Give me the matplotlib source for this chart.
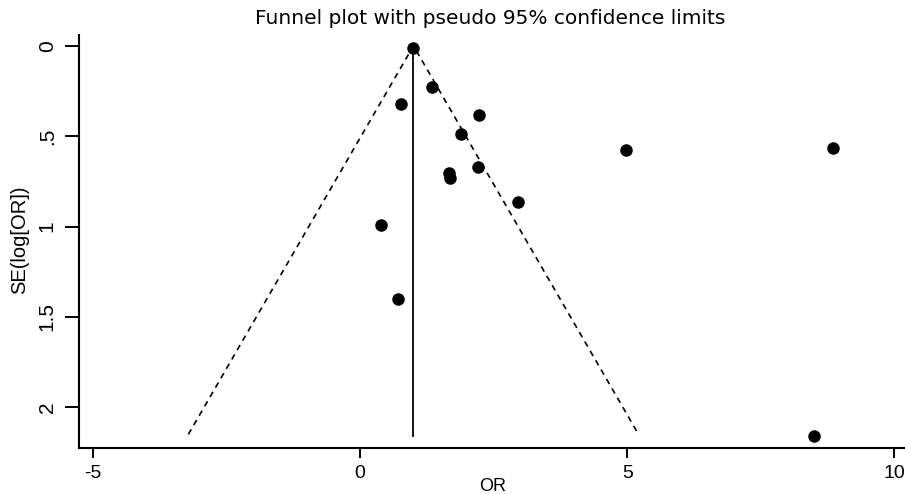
#! /bin/env python

# Funnel plot of odds ratios against their standard errors.

import matplotlib
matplotlib.use("Agg")
import matplotlib.pyplot as plt

odds_ratio = [1.0, 1.34, 0.76, 2.22, 1.89, 2.20, 1.67, 1.69, 2.95, 0.40,
              4.98, 8.85, 0.71, 8.49]
se_log_or = [0.01, 0.229, 0.323, 0.384, 0.485, 0.668, 0.701, 0.729, 0.865,
             0.99, 0.576, 0.563, 1.40, 2.16]

pooled_or = 1.0
se_max = 2.15
z = 1.96

x_ticks = [-5, 0, 5, 10]
y_ticks = [0, 0.5, 1, 1.5, 2]
y_tick_labels = ["0", ".5", "1", "1.5", "2"]

plt.rcParams["font.family"] = ["Liberation Sans", "DejaVu Sans"]

W, H = 905, 494
fig = plt.figure(figsize=(W / 100, H / 100), dpi=100)
ax = fig.add_axes([79 / W, (H - 448) / H, 826 / W, 413 / H])

# pseudo 95% confidence limits
ax.plot([pooled_or - z * se_max, pooled_or, pooled_or + z * se_max],
        [se_max, 0, se_max], color="black", lw=1.2, ls=(0, (3.5, 3)))
ax.plot([pooled_or, pooled_or], [0, se_max + 0.01], color="black", lw=1.3)

ax.plot(odds_ratio, se_log_or, "o", color="black", ms=8, mec="black")

ax.set_xlim(-5.26, 10.2)
ax.set_ylim(2.225, -0.06)

for s in ["top", "right"]:
    ax.spines[s].set_visible(False)
for s in ["left", "bottom"]:
    ax.spines[s].set_linewidth(1.5)

ax.set_xticks(x_ticks)
ax.set_xticklabels([str(t) for t in x_ticks])
ax.set_yticks(y_ticks)
ax.set_yticklabels(y_tick_labels, rotation=90, va="center")
ax.tick_params(axis="x", length=7, width=1.4, pad=5, labelsize=14)
ax.tick_params(axis="y", length=10, width=1.4, pad=6, labelsize=15)

fig.text(490 / W, 1 - 19 / H, "Funnel plot with pseudo 95% confidence limits",
         ha="center", va="center", fontsize=14.5, family="DejaVu Sans")
fig.text(493 / W, 1 - 486 / H, "OR", ha="center", va="center", fontsize=13)
fig.text(20 / W, 1 - 240 / H, "SE(log[OR])", ha="center", va="center",
         rotation=90, fontsize=14.5)

fig.savefig("out.png", dpi=100)
